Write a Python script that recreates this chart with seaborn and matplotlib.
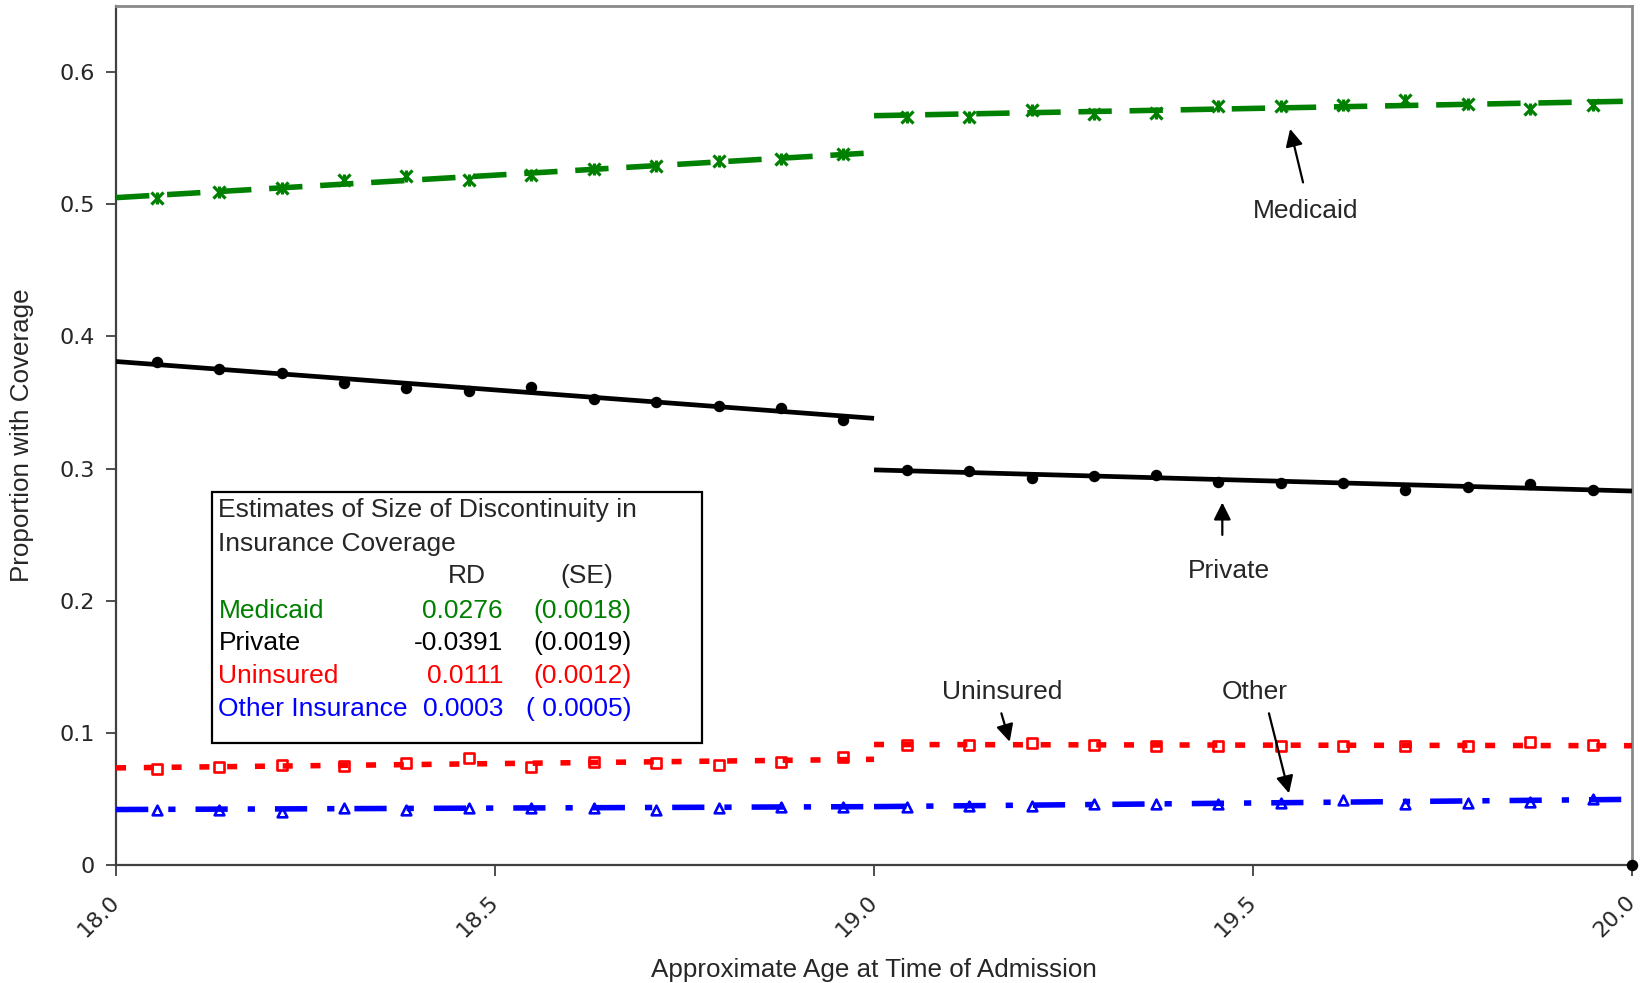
import numpy as np
import pandas as pd
import matplotlib
matplotlib.use("Agg")
import matplotlib.pyplot as plt
import seaborn as sns

# ---------------- data ----------------
age_left = [18.054, 18.136, 18.219, 18.301, 18.383, 18.466, 18.548, 18.630, 18.712, 18.795, 18.877, 18.959]
age_right = [19.043, 19.125, 19.208, 19.290, 19.372, 19.454, 19.537, 19.619, 19.701, 19.784, 19.866, 19.948]

medicaid_left = [0.505, 0.509, 0.512, 0.518, 0.521, 0.518, 0.522, 0.527, 0.529, 0.533, 0.534, 0.538]
medicaid_right = [0.566, 0.566, 0.571, 0.568, 0.569, 0.574, 0.574, 0.575, 0.579, 0.576, 0.572, 0.575]
private_left = [0.381, 0.375, 0.372, 0.365, 0.361, 0.359, 0.362, 0.353, 0.350, 0.347, 0.346, 0.337]
private_right = [0.299, 0.298, 0.293, 0.294, 0.295, 0.290, 0.289, 0.289, 0.284, 0.286, 0.288, 0.284]
uninsured_left = [0.073, 0.074, 0.076, 0.075, 0.077, 0.081, 0.074, 0.078, 0.077, 0.076, 0.078, 0.082]
uninsured_right = [0.091, 0.091, 0.092, 0.091, 0.090, 0.090, 0.090, 0.090, 0.090, 0.090, 0.093, 0.091]
other_left = [0.042, 0.042, 0.040, 0.043, 0.042, 0.043, 0.043, 0.043, 0.042, 0.043, 0.044, 0.044]
other_right = [0.044, 0.045, 0.045, 0.046, 0.046, 0.046, 0.047, 0.049, 0.046, 0.047, 0.048, 0.050]

# stray point at the corner of the plot area
stray_x = [20.0]
stray_y = [0.0]

# fitted lines (end points of each side of the cutoff)
fit_x_left = [18.0, 19.0]
fit_x_right = [19.0, 20.0]
medicaid_fit_left = [0.505, 0.539]
medicaid_fit_right = [0.567, 0.578]
private_fit_left = [0.381, 0.338]
private_fit_right = [0.299, 0.283]
uninsured_fit_left = [0.0735, 0.080]
uninsured_fit_right = [0.0912, 0.0903]
other_fit_left = [0.042, 0.0442]
other_fit_right = [0.0442, 0.0497]

x_ticks = [18.0, 18.5, 19.0, 19.5, 20.0]
y_ticks = [0, 0.1, 0.2, 0.3, 0.4, 0.5, 0.6]
y_tick_labels = ["0", "0.1", "0.2", "0.3", "0.4", "0.5", "0.6"]

series_names = ["Medicaid", "Private", "Uninsured", "Other Insurance"]
rd_values = ["0.0276", "-0.0391", "0.0111", "0.0003"]
se_values = ["(0.0018)", "(0.0019)", "(0.0012)", "( 0.0005)"]

# ---------------- style ----------------
sns.set_style("white")
plt.rcParams["font.family"] = ["Liberation Sans", "DejaVu Sans"]

GREEN = "#008000"
RED = "#FF0000"
BLUE = "#0000FF"
BLACK = "#000000"

fig = plt.figure(figsize=(16.44, 9.83), dpi=100)
ax = fig.add_axes([0.0706, 0.1200, 0.9221, 0.8739])

# ---------------- points ----------------
pts = pd.DataFrame({
    "age": age_left + age_right,
    "medicaid": medicaid_left + medicaid_right,
    "private": private_left + private_right,
    "uninsured": uninsured_left + uninsured_right,
    "other": other_left + other_right,
})

sns.scatterplot(data=pts, x="age", y="medicaid", marker="x", s=75, color=GREEN,
                linewidth=2.3, ax=ax, zorder=2)
sns.scatterplot(data=pts, x="age", y="medicaid", marker="|", s=75, color=GREEN,
                linewidth=2.3, ax=ax, zorder=2)
sns.scatterplot(data=pts, x="age", y="private", marker="o", s=68, color=BLACK,
                edgecolor=BLACK, linewidth=0, ax=ax, zorder=2)
sns.scatterplot(data=pts, x="age", y="uninsured", marker="s", s=46, color="white",
                edgecolor=RED, linewidth=1.9, ax=ax, zorder=2)
sns.scatterplot(data=pts, x="age", y="other", marker="^", s=48, color="white",
                edgecolor=BLUE, linewidth=1.9, ax=ax, zorder=2)
sns.scatterplot(x=stray_x, y=stray_y, marker="o", s=68, color=BLACK, linewidth=0,
                ax=ax, zorder=5, clip_on=False)

# ---------------- fitted lines ----------------
line_specs = [
    (medicaid_fit_left, medicaid_fit_right, GREEN, 4.0, (0, (6.0, 3.2))),
    (private_fit_left, private_fit_right, BLACK, 3.4, "-"),
    (uninsured_fit_left, uninsured_fit_right, RED, 4.0, (0, (1.8, 3.2))),
    (other_fit_left, other_fit_right, BLUE, 4.0, (0, (5.8, 3.6, 1.3, 3.6))),
]
for yl, yr, col, lw, ls in line_specs:
    for xs, ys in ((fit_x_left, yl), (fit_x_right, yr)):
        sns.lineplot(x=xs, y=ys, color=col, linewidth=lw, linestyle=ls, ax=ax,
                     zorder=3, solid_capstyle="butt", dash_capstyle="butt")

# ---------------- axes ----------------
ax.set_xlim(18.0, 20.0)
ax.set_ylim(0, 0.65)
ax.set_xticks(x_ticks)
ax.set_yticks(y_ticks)
ax.tick_params(axis="x", direction="out", length=8, width=1.3, color="#404040", pad=16,
               bottom=True)
ax.tick_params(axis="y", direction="out", length=7, width=1.3, color="#404040", pad=8,
               left=True)
ax.set_xticklabels([f"{v:.1f}" for v in x_ticks], fontfamily="DejaVu Sans",
                   fontsize=16, rotation=45, ha="right", va="center",
                   rotation_mode="anchor")
ax.set_yticklabels(y_tick_labels, fontfamily="DejaVu Sans", fontsize=16)

for side in ("left", "bottom"):
    ax.spines[side].set_color("#404040")
    ax.spines[side].set_linewidth(1.6)
for side in ("top", "right"):
    ax.spines[side].set_color("#8a8a8a")
    ax.spines[side].set_linewidth(2.0)

ax.set_xlabel("Approximate Age at Time of Admission", fontsize=18.7)
ax.set_ylabel("Proportion with Coverage", fontsize=18.7)
ax.xaxis.set_label_coords(0.5, -0.108)
ax.yaxis.set_label_coords(-0.054, 0.5)

# ---------------- annotations ----------------
arrow_kw = dict(arrowstyle="-|>", color="black", lw=1.6, mutation_scale=26,
                shrinkA=0, shrinkB=0)
labels = [
    ("Medicaid", (19.570, 0.4895), (19.566, 0.5165), (19.549, 0.557)),
    ("Private", (19.468, 0.217), (19.4595, 0.2498), (19.4595, 0.2743)),
    ("Uninsured", (19.1695, 0.1254), (19.168, 0.1148), (19.179, 0.0933)),
    ("Other", (19.5026, 0.1254), (19.521, 0.1148), (19.5475, 0.0543)),
]
for txt, tpos, tail, tip in labels:
    ax.text(tpos[0], tpos[1], txt, fontsize=19, ha="center", va="baseline", zorder=6)
    ax.annotate("", xy=tip, xytext=tail, arrowprops=arrow_kw, zorder=6)

# ---------------- estimates box ----------------
box = plt.Rectangle((0.0635, 0.1417), 0.3863 - 0.0635, 0.4346 - 0.1417,
                    transform=ax.transAxes, facecolor="white", edgecolor="black",
                    linewidth=1.6, zorder=4)
ax.add_patch(box)
tfs = 19
ax.text(0.0675, 0.4048, "Estimates of Size of Discontinuity in", transform=ax.transAxes,
        fontsize=tfs, va="baseline", ha="left", zorder=5)
ax.text(0.0675, 0.3659, "Insurance Coverage", transform=ax.transAxes,
        fontsize=tfs, va="baseline", ha="left", zorder=5)
ax.text(0.2313, 0.3279, "RD", transform=ax.transAxes, fontsize=tfs, va="baseline",
        ha="center", zorder=5)
ax.text(0.3105, 0.3279, "(SE)", transform=ax.transAxes, fontsize=tfs, va="baseline",
        ha="center", zorder=5)
row_y = [0.2879, 0.2503, 0.2115, 0.1735]
row_col = [GREEN, BLACK, RED, BLUE]
for name, rd, se, yy, col in zip(series_names, rd_values, se_values, row_y, row_col):
    ax.text(0.0675, yy, name, transform=ax.transAxes, fontsize=tfs, va="baseline",
            ha="left", color=col, zorder=5)
    ax.text(0.2553, yy, rd, transform=ax.transAxes, fontsize=tfs, va="baseline",
            ha="right", color=col, zorder=5)
    ax.text(0.3400, yy, se, transform=ax.transAxes, fontsize=tfs, va="baseline",
            ha="right", color=col, zorder=5)

fig.savefig("out.png", dpi=100, facecolor="white")
